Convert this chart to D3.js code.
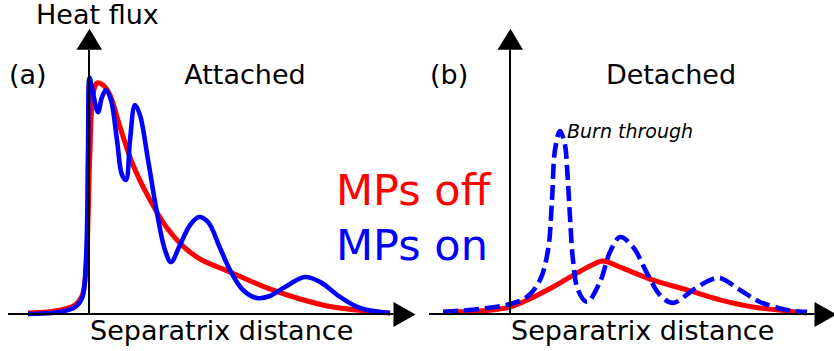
<!DOCTYPE html>
<html>
<head>
<meta charset="utf-8">
<script src="https://cdn.jsdelivr.net/npm/d3@7"></script>
<style>
  body { margin: 0; background: #fff; }
  text { font-family: "DejaVu Sans", sans-serif; }
</style>
</head>
<body>
<div id="chart"></div>
<script>
// separatrix distance (arb. units, 0 = separatrix) and heat flux (arb. units, 1 = attached MPs-off peak)
const attachedOffX = [-0.813, -0.387, -0.187, -0.093, -0.04, -0.013, 0.013, 0.053, 0.107, 0.187, 0.28, 0.413, 0.587, 0.813, 1.04, 1.253, 1.48, 1.88, 2.373, 2.813, 3.253, 3.707, 4.013];
const attachedOffY = [0.004, 0.017, 0.039, 0.078, 0.19, 0.407, 0.71, 0.948, 1.0, 0.991, 0.948, 0.81, 0.645, 0.494, 0.372, 0.294, 0.238, 0.182, 0.113, 0.065, 0.03, 0.013, 0.004];

const attachedOnX = [-0.813, -0.387, -0.187, -0.093, -0.04, -0.013, 0.007, 0.04, 0.12, 0.173, 0.227, 0.293, 0.373, 0.44, 0.493, 0.547, 0.613, 0.68, 0.787, 0.907, 1.013, 1.093, 1.213, 1.347, 1.467, 1.587, 1.747, 1.88, 2.053, 2.24, 2.413, 2.613, 2.88, 3.08, 3.347, 3.613, 4.013];
const attachedOnY = [0, 0.009, 0.03, 0.069, 0.234, 0.71, 1.022, 0.978, 0.874, 0.939, 0.97, 0.926, 0.753, 0.602, 0.58, 0.753, 0.905, 0.861, 0.667, 0.437, 0.277, 0.225, 0.299, 0.385, 0.42, 0.398, 0.286, 0.19, 0.104, 0.069, 0.078, 0.117, 0.16, 0.139, 0.074, 0.026, 0.004];

const detachedOffX = [-0.893, -0.4, 0, 0.173, 0.573, 0.893, 1.093, 1.24, 1.467, 1.907, 2.36, 2.8, 3.24, 3.693, 3.96];
const detachedOffY = [0.009, 0.013, 0.03, 0.052, 0.117, 0.177, 0.212, 0.229, 0.203, 0.147, 0.104, 0.061, 0.03, 0.013, 0.004];

const detachedOnX = [-0.893, -0.4, 0, 0.227, 0.4, 0.507, 0.56, 0.6, 0.667, 0.733, 0.76, 0.8, 0.84, 0.907, 1.027, 1.2, 1.333, 1.467, 1.64, 1.827, 2.0, 2.173, 2.44, 2.667, 2.8, 3.067, 3.333, 3.693, 3.96];
const detachedOnY = [0.009, 0.022, 0.043, 0.074, 0.147, 0.277, 0.494, 0.71, 0.792, 0.732, 0.636, 0.42, 0.234, 0.104, 0.052, 0.139, 0.268, 0.333, 0.29, 0.177, 0.082, 0.048, 0.104, 0.147, 0.156, 0.104, 0.052, 0.017, 0.009];

const panelLabels = ["(a)", "(b)"];
const panelTitles = ["Attached", "Detached"];
const legendLabels = ["MPs off", "MPs on"];

const W = 834, H = 351;
const svg = d3.select("#chart").append("svg")
    .attr("width", W)
    .attr("height", H);

// same y scale for both panels
const y = d3.scaleLinear().domain([0, 1]).range([314, 83]);

const panels = [
  {x: d3.scaleLinear().domain([-1.08, 4.0]).range([8, 389]), off: [attachedOffX, attachedOffY], on: [attachedOnX, attachedOnY], dash: null, title: 245},
  {x: d3.scaleLinear().domain([-1.08, 4.0]).range([429, 810]), off: [detachedOffX, detachedOffY], on: [detachedOnX, detachedOnY], dash: "15,6", title: 671}
];

const line = (xs) => d3.line()
    .x(d => xs(d[0]))
    .y(d => y(d[1]))
    .curve(d3.curveCatmullRom.alpha(0.5));

panels.forEach((p, i) => {
  const g = svg.append("g");
  const x = p.x;
  const x0 = x(0), yb = y(0);
  const xEnd = x(4.06);    // start of x arrow head
  const yTop = y(1.144);   // base of y arrow head

  // curves
  g.append("path")
    .datum(d3.zip(p.off[0], p.off[1]))
    .attr("d", line(x))
    .attr("fill", "none")
    .attr("stroke", "#ff0000")
    .attr("stroke-width", 5)
    .attr("stroke-linejoin", "round");

  g.append("path")
    .datum(d3.zip(p.on[0], p.on[1]))
    .attr("d", line(x))
    .attr("fill", "none")
    .attr("stroke", "#0000ff")
    .attr("stroke-width", 4.6)
    .attr("stroke-linejoin", "round")
    .attr("stroke-dasharray", p.dash);

  // axes
  g.append("line")
    .attr("x1", x(-1.08)).attr("x2", xEnd)
    .attr("y1", yb).attr("y2", yb)
    .attr("stroke", "#000").attr("stroke-width", 2);
  g.append("path")
    .attr("d", `M${xEnd},${yb - 12}L${xEnd + 22},${yb + 0.5}L${xEnd},${yb + 13}Z`)
    .attr("fill", "#000");

  g.append("line")
    .attr("x1", x0).attr("x2", x0)
    .attr("y1", yb).attr("y2", yTop)
    .attr("stroke", "#000").attr("stroke-width", 2);
  g.append("path")
    .attr("d", `M${x0 - 12.5},${yTop}L${x0 + 0.5},${yTop - 21}L${x0 + 13},${yTop}Z`)
    .attr("fill", "#000");

  // texts
  g.append("text")
    .attr("x", x(-1.08) + 1).attr("y", 84)
    .style("font-size", "27px")
    .text(panelLabels[i]);

  g.append("text")
    .attr("x", p.title).attr("y", 84)
    .attr("text-anchor", "middle")
    .style("font-size", "27px")
    .text(panelTitles[i]);

  g.append("text")
    .attr("x", x0 + 1).attr("y", 340)
    .style("font-size", "27px")
    .text("Separatrix distance");
});

svg.append("text")
  .attr("x", 36).attr("y", 24)
  .style("font-size", "27px")
  .text("Heat flux");

svg.append("text")
  .attr("x", 567).attr("y", 138)
  .style("font-size", "19px")
  .style("font-style", "italic")
  .text("Burn through");

svg.selectAll(".legend")
  .data(legendLabels)
  .join("text")
    .attr("class", "legend")
    .attr("x", 336)
    .attr("y", (d, i) => 205 + i * 55)
    .style("font-size", "43px")
    .attr("fill", (d, i) => i === 0 ? "#ff0000" : "#0000ff")
    .text(d => d);
</script>
</body>
</html>
